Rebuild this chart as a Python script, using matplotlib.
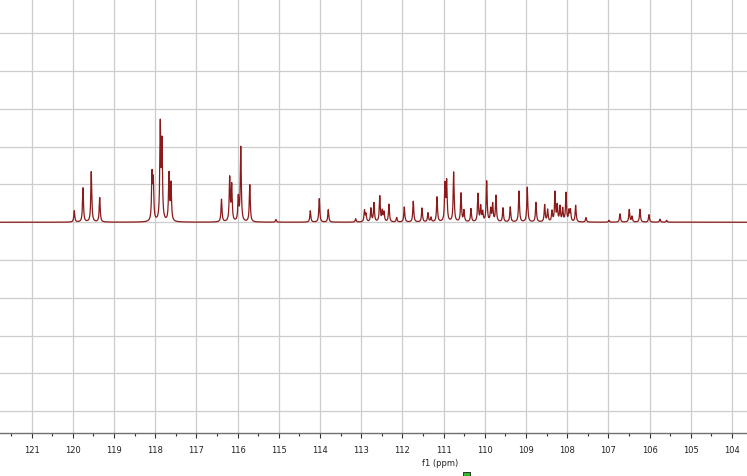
#!/usr/bin/env python3
import matplotlib

matplotlib.use("Agg")
import matplotlib.pyplot as plt
import numpy as np
from matplotlib.patches import Rectangle
from matplotlib.ticker import MultipleLocator


# Peak list (chemical shift in ppm, height in grid units)
PEAK_PPM = [
    119.966, 119.755, 119.553, 119.349,
    118.079, 118.048, 117.878, 117.837, 117.667, 117.618,
    116.392, 116.193, 116.144, 115.984, 115.924, 115.705,
    115.069, 114.236, 114.018, 113.799,
    113.134, 112.920, 112.884, 112.763, 112.690, 112.549, 112.488, 112.447,
    112.326, 112.139, 111.954, 111.736, 111.524, 111.379, 111.306, 111.160,
    110.966, 110.925, 110.755, 110.577, 110.505, 110.335, 110.165, 110.099,
    110.051, 109.954, 109.856, 109.808, 109.728, 109.558, 109.381, 109.169,
    108.968, 108.757, 108.546, 108.473, 108.368, 108.295, 108.240, 108.174,
    108.108, 108.028, 107.956, 107.919, 107.793, 107.543,
    106.984, 106.717, 106.492, 106.426, 106.232, 106.013, 105.746, 105.584,
]
PEAK_HEIGHT = [
    0.30, 0.91, 1.34, 0.65,
    1.20, 1.02, 2.50, 2.00, 1.25, 0.98,
    0.60, 1.15, 0.95, 0.62, 1.97, 0.99,
    0.07, 0.30, 0.62, 0.33,
    0.09, 0.30, 0.20, 0.36, 0.50, 0.68, 0.28, 0.25,
    0.47, 0.12, 0.40, 0.55, 0.37, 0.24, 0.12, 0.66,
    0.96, 1.04, 1.32, 0.76, 0.30, 0.35, 0.74, 0.40,
    0.25, 1.07, 0.33, 0.46, 0.69, 0.37, 0.40, 0.82,
    0.92, 0.52, 0.45, 0.32, 0.28, 0.78, 0.42, 0.40,
    0.34, 0.76, 0.28, 0.30, 0.44, 0.12,
    0.05, 0.22, 0.33, 0.15, 0.34, 0.20, 0.08, 0.05,
]
TICK_PPM = list(range(104, 122))

LINE = "#8b1a1a"
GRID = "#cdcdcd"
AXIS = "#707070"
HWHM = 0.014


def spectrum(ppm):
    y = np.zeros_like(ppm)
    for pos, h in zip(PEAK_PPM, PEAK_HEIGHT):
        y += h / (1.0 + ((ppm - pos) / HWHM) ** 2)
    return y


def main():
    fig = plt.figure(figsize=(7.47, 4.76), dpi=100)
    ax = fig.add_axes([0, 0.0893, 1, 0.9107])

    ppm = np.arange(103.6, 121.8, 0.002)
    ax.plot(ppm, spectrum(ppm), color=LINE, lw=0.9)

    ax.set_xlim(121.770, 103.634)
    ax.set_ylim(-5.595, 5.886)

    ax.set_xticks(TICK_PPM)
    ax.xaxis.set_minor_locator(MultipleLocator(0.5))
    ax.set_yticks(range(-5, 6))
    ax.grid(True, which="major", color=GRID, lw=0.9)
    ax.set_axisbelow(True)

    ax.tick_params(axis="y", left=False, labelleft=False)
    ax.tick_params(axis="x", which="major", length=3.8, width=0.8, color="#333333",
                   labelsize=6, pad=5, labelcolor="#222222")
    ax.tick_params(axis="x", which="minor", length=2.2, width=0.8, color="#333333")

    for side in ("left", "right", "top"):
        ax.spines[side].set_visible(False)
    ax.spines["bottom"].set_color(AXIS)
    ax.spines["bottom"].set_linewidth(1.0)

    fig.text(440 / 747, 1 - 463 / 476, "f1 (ppm)", ha="center", va="center",
             fontsize=6, color="#222222")

    # small green marker under the axis label
    fig.patches.append(Rectangle((463 / 747, 0), 7 / 747, 4 / 476, transform=fig.transFigure,
                                 facecolor="#2db82d", edgecolor="#1a1a1a", lw=0.6))

    fig.savefig("out.png", dpi=100)


if __name__ == "__main__":
    main()
